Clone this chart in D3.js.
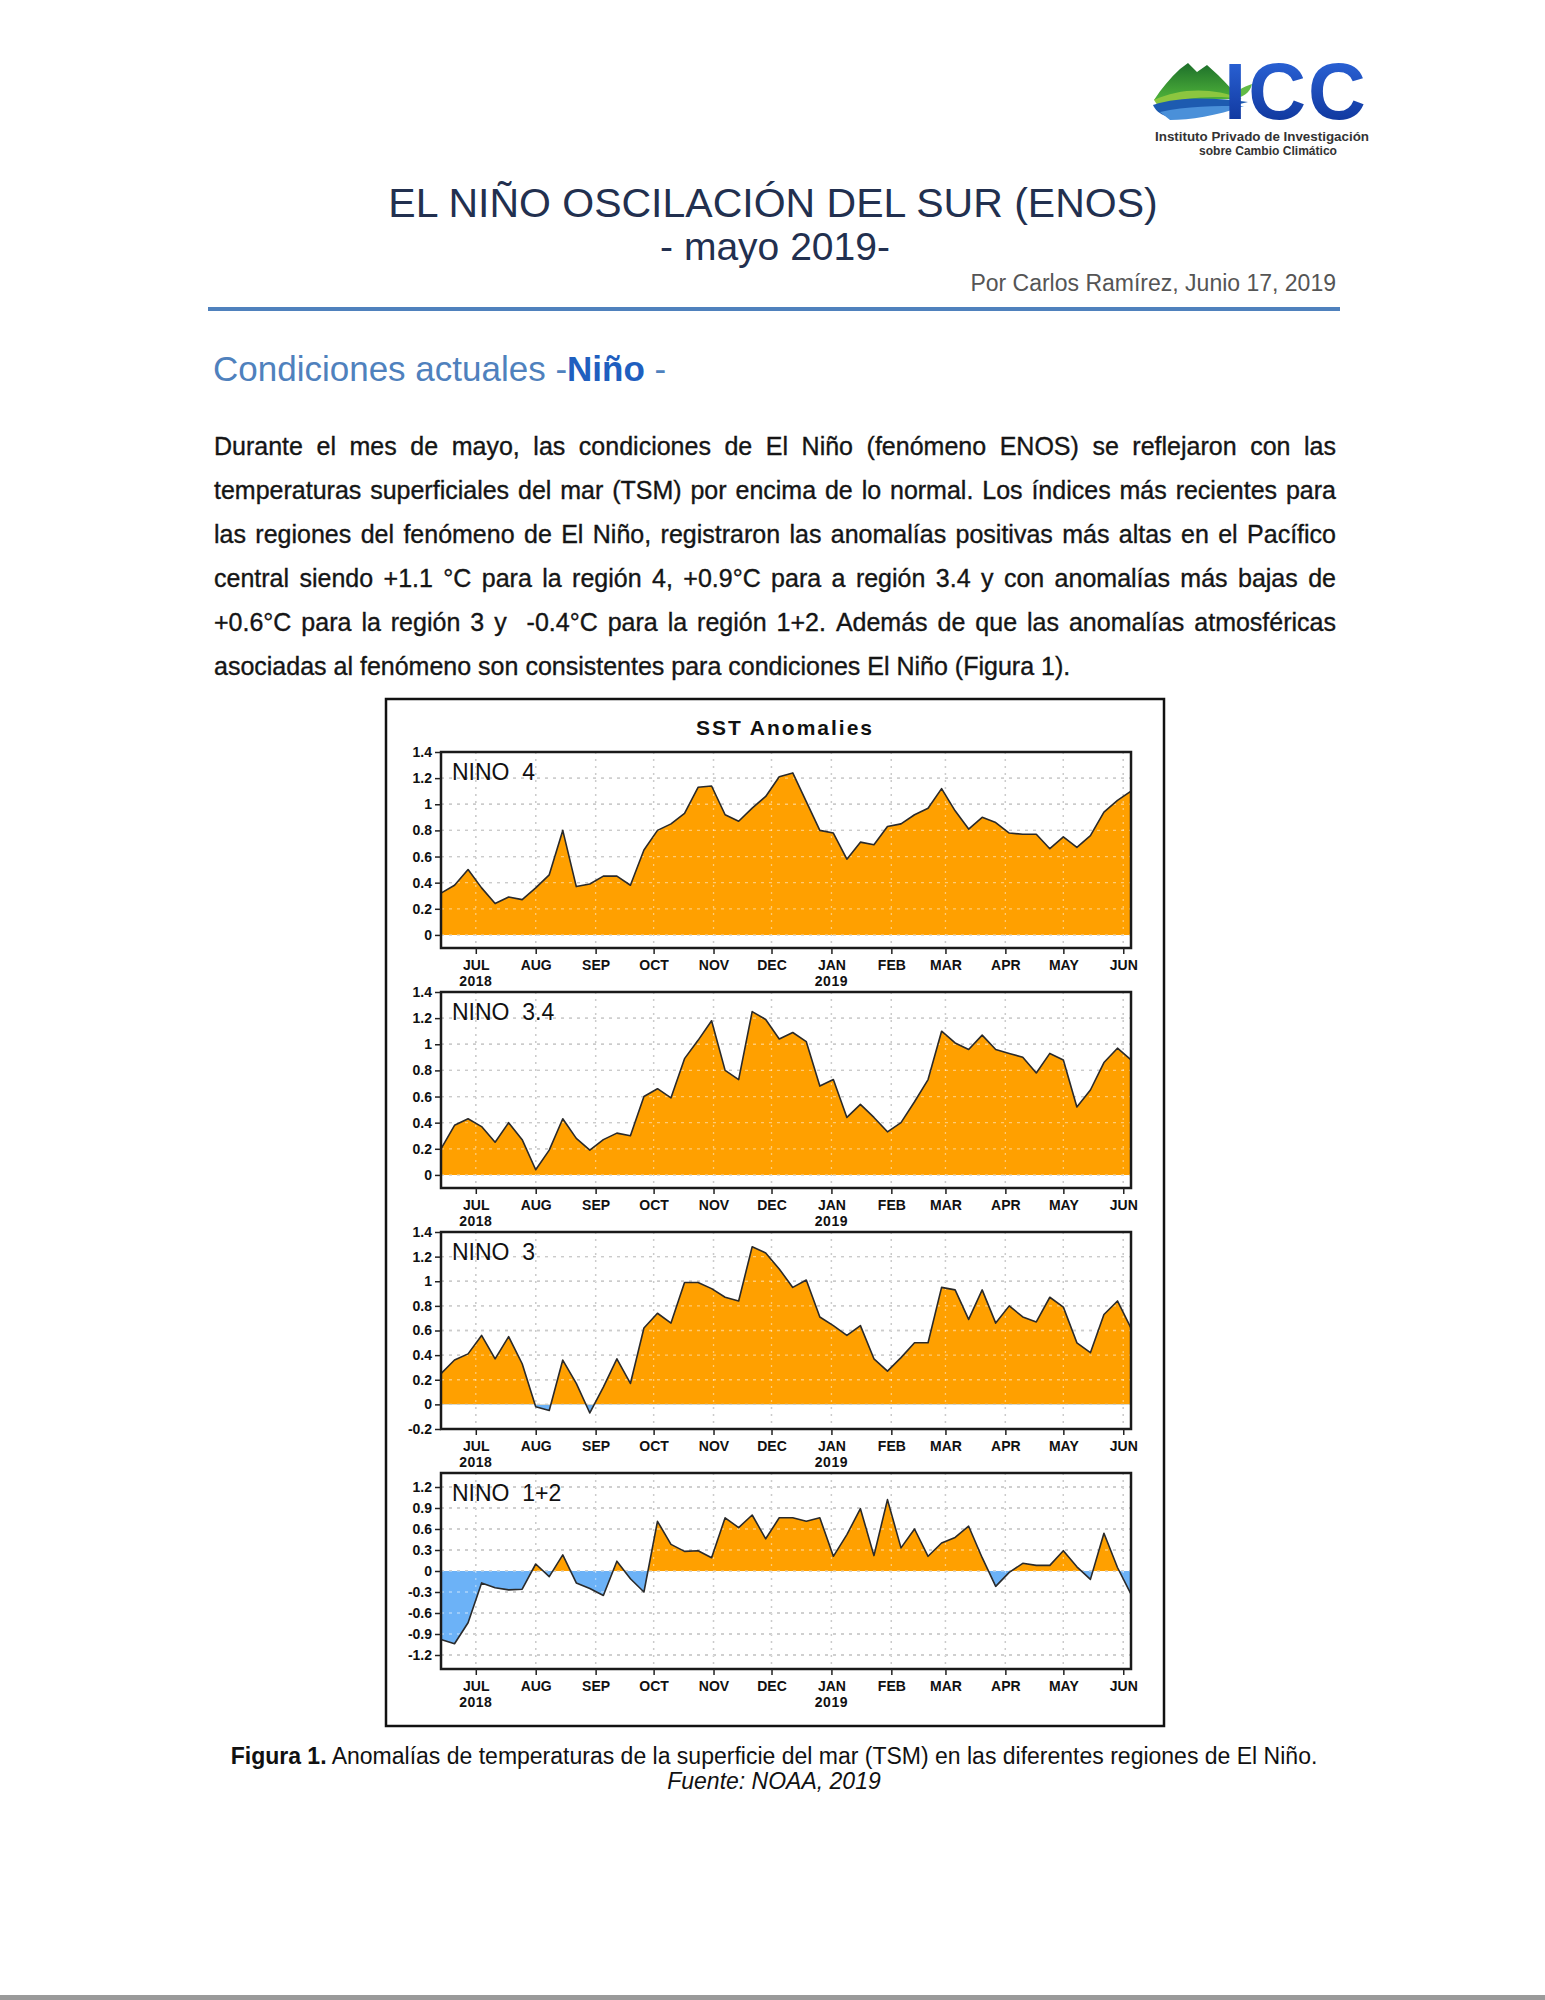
<!DOCTYPE html>
<html><head><meta charset="utf-8">
<script src="https://cdn.jsdelivr.net/npm/d3@7/dist/d3.min.js"></script>
<style>
html,body{margin:0;padding:0;background:#fff;}
svg{display:block;}
text{font-family:"Liberation Sans",Arial,Helvetica,sans-serif;}
</style></head><body>
<svg id="page" width="1545" height="2000"></svg>
<script>
// ---------------- DATA ----------------
const weeks = ["2018-06-13","2018-06-20","2018-06-27","2018-07-04","2018-07-11","2018-07-18","2018-07-25",
"2018-08-01","2018-08-08","2018-08-15","2018-08-22","2018-08-29","2018-09-05","2018-09-12","2018-09-19","2018-09-26",
"2018-10-03","2018-10-10","2018-10-17","2018-10-24","2018-10-31","2018-11-07","2018-11-14","2018-11-21","2018-11-28",
"2018-12-05","2018-12-12","2018-12-19","2018-12-26","2019-01-02","2019-01-09","2019-01-16","2019-01-23","2019-01-30",
"2019-02-06","2019-02-13","2019-02-20","2019-02-27","2019-03-06","2019-03-13","2019-03-20","2019-03-27",
"2019-04-03","2019-04-10","2019-04-17","2019-04-24","2019-05-01","2019-05-08","2019-05-15","2019-05-22","2019-05-29","2019-06-05"];

const nino4 = [0.32,0.38,0.50,0.36,0.24,0.29,0.27,0.36,0.46,0.80,0.37,0.39,0.45,0.45,0.38,0.65,0.80,0.85,0.93,1.13,1.14,0.92,0.87,0.97,1.06,1.21,1.24,1.02,0.80,0.78,0.58,0.71,0.69,0.83,0.85,0.92,0.97,1.12,0.95,0.81,0.90,0.86,0.78,0.77,0.77,0.66,0.75,0.67,0.76,0.94,1.03,1.10];
const nino34 = [0.20,0.38,0.43,0.37,0.25,0.40,0.27,0.04,0.19,0.43,0.28,0.19,0.27,0.32,0.30,0.60,0.66,0.59,0.89,1.03,1.18,0.80,0.73,1.25,1.19,1.04,1.09,1.02,0.68,0.73,0.44,0.54,0.44,0.33,0.40,0.56,0.73,1.10,1.01,0.96,1.07,0.96,0.93,0.90,0.78,0.93,0.88,0.52,0.65,0.86,0.97,0.88];
const nino3 = [0.25,0.36,0.41,0.56,0.37,0.55,0.33,-0.02,-0.05,0.36,0.17,-0.07,0.14,0.37,0.17,0.62,0.74,0.66,0.99,0.99,0.94,0.87,0.84,1.28,1.23,1.10,0.95,1.01,0.71,0.64,0.56,0.64,0.37,0.27,0.38,0.50,0.50,0.95,0.93,0.69,0.93,0.66,0.80,0.71,0.67,0.87,0.79,0.50,0.42,0.73,0.84,0.62];
const nino12 = [-0.98,-1.04,-0.74,-0.17,-0.24,-0.27,-0.26,0.10,-0.08,0.23,-0.17,-0.25,-0.35,0.14,-0.11,-0.30,0.71,0.38,0.28,0.29,0.19,0.76,0.62,0.80,0.46,0.76,0.76,0.71,0.76,0.21,0.52,0.89,0.22,1.02,0.33,0.60,0.21,0.40,0.48,0.64,0.19,-0.22,-0.02,0.11,0.08,0.08,0.29,0.06,-0.12,0.54,0.05,-0.33];

const regionNames = ["NINO  4","NINO  3.4","NINO  3","NINO  1+2"];
const monthTicks = ["2018-07-01","2018-08-01","2018-09-01","2018-10-01","2018-11-01","2018-12-01",
"2019-01-01","2019-02-01","2019-03-01","2019-04-01","2019-05-01","2019-06-01"];
const monthLabels = ["JUL","AUG","SEP","OCT","NOV","DEC","JAN","FEB","MAR","APR","MAY","JUN"];
const yearLabels = ["2018","","","","","","2019","","","","",""];

const ticksPos = [0,0.2,0.4,0.6,0.8,1,1.2,1.4];
const labelsPos = ["0","0.2","0.4","0.6","0.8","1","1.2","1.4"];
const ticksN3 = [-0.2,0,0.2,0.4,0.6,0.8,1,1.2,1.4];
const labelsN3 = ["-0.2","0","0.2","0.4","0.6","0.8","1","1.2","1.4"];
const ticksN12 = [-1.2,-0.9,-0.6,-0.3,0,0.3,0.6,0.9,1.2];
const labelsN12 = ["-1.2","-0.9","-0.6","-0.3","0","0.3","0.6","0.9","1.2"];

const paragraphLines = [
"Durante el mes de mayo, las condiciones de El Niño (fenómeno ENOS) se reflejaron con las",
"temperaturas superficiales del mar (TSM) por encima de lo normal. Los índices más recientes para",
"las regiones del fenómeno de El Niño, registraron las anomalías positivas más altas en el Pacífico",
"central siendo +1.1 °C para la región 4, +0.9°C para a región 3.4 y con anomalías más bajas de",
"+0.6°C para la región 3 y  -0.4°C para la región 1+2. Además de que las anomalías atmosféricas",
"asociadas al fenómeno son consistentes para condiciones El Niño (Figura 1)."
];

// ---------------- PAGE ----------------
const svg = d3.select("#page");
const parse = d3.utcParse("%Y-%m-%d");
const weekDates = weeks.map(parse);
const monthDates = monthTicks.map(parse);

// Logo
const defs = svg.append("defs");
const lg = defs.append("linearGradient").attr("id","iccBlue").attr("x1",0).attr("y1",0).attr("x2",0).attr("y2",1);
lg.append("stop").attr("offset","0%").attr("stop-color","#2f6ae0");
lg.append("stop").attr("offset","100%").attr("stop-color","#0b2f92");
const gg = defs.append("linearGradient").attr("id","iccGreen").attr("x1",0).attr("y1",0).attr("x2",0).attr("y2",1);
gg.append("stop").attr("offset","0%").attr("stop-color","#1d6f2a");
gg.append("stop").attr("offset","100%").attr("stop-color","#4fb33a");
const logo = svg.append("g");
logo.append("path").attr("d","M1154,100 C1162,88 1170,78 1180,69 L1188,63 L1197,72 L1207,65 L1218,75 C1227,84 1234,92 1241,99 Z").attr("fill","url(#iccGreen)");
logo.append("path").attr("d","M1154,100 C1180,88 1212,87 1242,99 C1214,95 1186,97 1158,106 Z").attr("fill","#8cc63f");
logo.append("path").attr("d","M1153,105 C1181,96 1216,98 1248,102 C1221,109 1191,111 1166,116 C1160,114 1155,110 1153,105 Z").attr("fill","#1d5bb0");
logo.append("path").attr("d","M1160,112 C1186,106 1216,106 1244,106 C1216,116 1190,120 1170,120 Z").attr("fill","#4a90d9");
logo.append("path").attr("d","M1230,99 C1235,91 1243,87 1252,84 C1250,93 1243,98 1230,99 Z").attr("fill","#62bb46");
logo.append("text").attr("x",1224).attr("y",119).attr("font-size",80).attr("font-weight","bold")
  .attr("letter-spacing",2).attr("fill","url(#iccBlue)").text("ICC");
logo.append("text").attr("x",1155).attr("y",141).attr("font-size",12).attr("textLength",214).attr("lengthAdjust","spacingAndGlyphs")
  .attr("font-weight","bold").attr("fill","#333").text("Instituto Privado de Investigación");
logo.append("text").attr("x",1199).attr("y",155).attr("font-size",12).attr("textLength",138).attr("lengthAdjust","spacingAndGlyphs")
  .attr("font-weight","bold").attr("fill","#333").text("sobre Cambio Climático");

// Title block
svg.append("text").attr("x",773).attr("y",217).attr("text-anchor","middle").attr("font-size",41)
  .attr("fill","#22304f").text("EL NIÑO OSCILACIÓN DEL SUR (ENOS)");
svg.append("text").attr("x",775).attr("y",260).attr("text-anchor","middle").attr("font-size",39)
  .attr("fill","#22304f").text("- mayo 2019-");
svg.append("text").attr("x",1336).attr("y",291).attr("text-anchor","end").attr("font-size",23)
  .attr("fill","#555").text("Por Carlos Ramírez, Junio 17, 2019");
svg.append("rect").attr("x",208).attr("y",307).attr("width",1132).attr("height",4).attr("fill","#4f81bd");

// Heading
const hd = svg.append("text").attr("x",213).attr("y",381).attr("font-size",35).attr("fill","#4f81bd");
hd.append("tspan").text("Condiciones actuales -");
hd.append("tspan").attr("font-weight","bold").attr("fill","#1f5fbf").text("Niño");
hd.append("tspan").text(" -");

// Paragraph (justified)
const pX0 = 214, pX1 = 1336, pFont = 25;
const measurer = svg.append("text").attr("font-size",pFont).attr("visibility","hidden");
function wordWidth(w){ measurer.text(w); return w.length ? measurer.node().getComputedTextLength() : 0; }
const spaceW = (function(){ measurer.text("a a"); const a = measurer.node().getComputedTextLength(); measurer.text("aa"); return a - measurer.node().getComputedTextLength(); })();
paragraphLines.forEach((ln,i)=>{
  const words = ln.split(" ");
  const widths = words.map(wordWidth);
  const total = d3.sum(widths);
  const gaps = words.length - 1;
  const last = i === paragraphLines.length - 1;
  const gap = last ? spaceW : (pX1 - pX0 - total) / gaps;
  const t = svg.append("text").attr("y",455 + i*44).attr("font-size",pFont).attr("fill","#151515")
    .attr("stroke","#151515").attr("stroke-width",0.35);
  let cx = pX0;
  words.forEach((w,k)=>{
    if (w.length) t.append("tspan").attr("x",cx).text(w);
    cx += widths[k] + gap;
  });
});
measurer.remove();

// Caption
const cap = svg.append("text").attr("x",774).attr("y",1764).attr("text-anchor","middle").attr("font-size",23).attr("fill","#111");
cap.append("tspan").attr("font-weight","bold").text("Figura 1.");
cap.append("tspan").text(" Anomalías de temperaturas de la superficie del mar (TSM) en las diferentes regiones de El Niño.");
svg.append("text").attr("x",774).attr("y",1789).attr("text-anchor","middle").attr("font-size",23)
  .attr("font-style","italic").attr("fill","#111").text("Fuente: NOAA, 2019");

// page bottom bar
svg.append("rect").attr("x",0).attr("y",1995).attr("width",1545).attr("height",5).attr("fill","#9a9a9a");

// ---------------- CHART ----------------
svg.append("rect").attr("x",386).attr("y",699).attr("width",778).attr("height",1027)
  .attr("fill","none").attr("stroke","#111").attr("stroke-width",2.5);
svg.append("text").attr("x",785).attr("y",735).attr("text-anchor","middle").attr("font-size",21)
  .attr("font-weight","bold").attr("letter-spacing",2).attr("fill","#111").text("SST Anomalies");

const plotX0 = 441, plotX1 = 1131;
const x = d3.scaleUtc().domain([weekDates[0], weekDates[weekDates.length-1]]).range([plotX0, plotX1]);

const panels = [
  {vals:nino4,  domain:[-0.1,1.4], top:752,  h:196, ticks:ticksPos, labels:labelsPos, name:regionNames[0]},
  {vals:nino34, domain:[-0.1,1.4], top:992,  h:196, ticks:ticksPos, labels:labelsPos, name:regionNames[1]},
  {vals:nino3,  domain:[-0.2,1.4], top:1232, h:197, ticks:ticksN3,  labels:labelsN3,  name:regionNames[2]},
  {vals:nino12, domain:[-1.4,1.4], top:1473, h:196, ticks:ticksN12, labels:labelsN12, name:regionNames[3]}
];

panels.forEach((p,pi)=>{
  const g = svg.append("g");
  const y = d3.scaleLinear().domain(p.domain).range([p.top + p.h, p.top]);
  const y0 = y(0);
  const cidA = "clipA"+pi, cidB = "clipB"+pi;
  defs.append("clipPath").attr("id",cidA).append("rect").attr("x",plotX0).attr("y",p.top).attr("width",plotX1-plotX0).attr("height",y0-p.top);
  defs.append("clipPath").attr("id",cidB).append("rect").attr("x",plotX0).attr("y",y0).attr("width",plotX1-plotX0).attr("height",p.top+p.h-y0);

  function grid(layer, color){
    layer.selectAll(null).data(p.ticks).join("line")
      .attr("x1",plotX0).attr("x2",plotX1).attr("y1",d=>y(d)).attr("y2",d=>y(d))
      .attr("stroke",color).attr("stroke-width",1.3).attr("stroke-dasharray","3,5");
    layer.selectAll(null).data(monthDates).join("line")
      .attr("x1",d=>x(d)).attr("x2",d=>x(d)).attr("y1",p.top).attr("y2",p.top+p.h)
      .attr("stroke",color).attr("stroke-width",1.3).attr("stroke-dasharray","2,5");
  }
  grid(g.append("g"), "#a0a0a0");

  const area = d3.area().x((d,i)=>x(weekDates[i])).y0(y0).y1(d=>y(d));
  g.append("path").datum(p.vals).attr("d",area).attr("fill","#ffa000").attr("clip-path","url(#"+cidA+")");
  g.append("path").datum(p.vals).attr("d",area).attr("fill","#6cb2f7").attr("clip-path","url(#"+cidB+")");

  grid(g.append("g"), "rgba(255,255,255,0.45)");

  const line = d3.line().x((d,i)=>x(weekDates[i])).y(d=>y(d));
  g.append("path").datum(p.vals).attr("d",line).attr("fill","none").attr("stroke","#2a2a2a").attr("stroke-width",1.6).attr("stroke-linejoin","round");

  g.append("rect").attr("x",plotX0).attr("y",p.top).attr("width",plotX1-plotX0).attr("height",p.h)
    .attr("fill","none").attr("stroke","#1a1a1a").attr("stroke-width",2.5);

  // y axis
  const ya = g.append("g").attr("transform","translate("+plotX0+",0)")
    .call(d3.axisLeft(y).tickValues(p.ticks).tickFormat((d,i)=>p.labels[i]).tickSize(6).tickPadding(3));
  ya.select(".domain").remove();
  ya.selectAll("line").attr("stroke","#222").attr("stroke-width",1.5);
  ya.selectAll("text").attr("font-size",14).attr("font-weight","bold").attr("fill","#111")
    .attr("font-family","'Liberation Sans',Arial,sans-serif");

  // x axis
  const xa = g.append("g").attr("transform","translate(0,"+(p.top+p.h)+")")
    .call(d3.axisBottom(x).tickValues(monthDates).tickFormat((d,i)=>monthLabels[i]).tickSize(6).tickPadding(6));
  xa.select(".domain").remove();
  xa.selectAll("line").attr("stroke","#222").attr("stroke-width",1.5);
  xa.selectAll("text").attr("font-size",14).attr("font-weight","bold").attr("fill","#111")
    .attr("font-family","'Liberation Sans',Arial,sans-serif");
  g.selectAll(null).data(monthDates).join("text")
    .attr("x",d=>x(d)).attr("y",p.top+p.h+38).attr("text-anchor","middle")
    .attr("font-size",14).attr("font-weight","bold").attr("letter-spacing",0.5).attr("fill","#111")
    .text((d,i)=>yearLabels[i]);

  g.append("text").attr("x",452).attr("y",p.top+28).attr("font-size",23).attr("fill","#111")
    .style("white-space","pre").text(p.name);
});
</script>
</body></html>
